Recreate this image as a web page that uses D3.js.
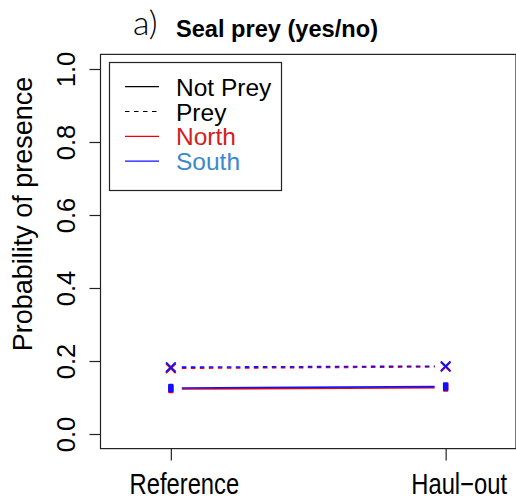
<!DOCTYPE html>
<html>
<head>
<meta charset="utf-8">
<script src="https://cdn.jsdelivr.net/npm/d3@7"></script>
<style>
  body { margin: 0; background: #fff; }
  svg { display: block; }
  text { font-family: "Liberation Sans", Arial, Helvetica, sans-serif; }
</style>
</head>
<body>
<script>
// Site categories along the x axis
const sites = ["Reference", "Haul\u2212out"];

// Probability of presence per site, split by region and prey status
const northPrey    = [0.180, 0.184];
const southPrey    = [0.183, 0.186];
const northNotPrey = [0.123, 0.127];
const southNotPrey = [0.126, 0.130];

const yTicks = [0, 0.2, 0.4, 0.6, 0.8, 1.0];
const legendLabels = ["Not Prey", "Prey", "North", "South"];

const W = 516, H = 501;
const red = "#f00000", blue = "#1010ff";

const series = [
  { region: "North", prey: false, values: northNotPrey, color: red },
  { region: "North", prey: true,  values: northPrey,    color: red },
  { region: "South", prey: false, values: southNotPrey, color: blue },
  { region: "South", prey: true,  values: southPrey,    color: blue }
];

const svg = d3.select("body").append("svg").attr("width", W).attr("height", H);

const x = d3.scaleLinear().domain([0.744, 2.256]).range([100.5, 516]);
const y = d3.scaleLinear().domain([-0.04, 1.04]).range([448.6, 54.4]);

// Plot frame
svg.append("rect")
  .attr("x", x(0.744)).attr("y", y(1.04))
  .attr("width", x(2.256) - x(0.744)).attr("height", y(-0.04) - y(1.04))
  .attr("fill", "none").attr("stroke", "#222").attr("stroke-width", 1.2);

// Y axis
const yAxis = svg.append("g")
  .attr("transform", `translate(${x(0.744)},0)`)
  .call(d3.axisLeft(y).tickValues(yTicks).tickSize(11).tickFormat(d3.format(".1f")));
yAxis.select(".domain").remove();
yAxis.selectAll(".tick line").attr("stroke", "#222").attr("stroke-width", 1.2);
yAxis.selectAll(".tick text")
  .attr("x", null).attr("dy", null)
  .attr("transform", "translate(-26,0) rotate(-90)")
  .attr("text-anchor", "middle")
  .style("font-size", "25.5px")
  .style("fill", "#000");

// X axis (labels drawn narrow and tall)
const xAxis = svg.append("g")
  .attr("transform", `translate(0,${y(-0.04)})`)
  .call(d3.axisBottom(x).tickValues([1, 2]).tickSize(12).tickFormat(d => sites[d - 1]));
xAxis.select(".domain").remove();
xAxis.selectAll(".tick line").attr("stroke", "#222").attr("stroke-width", 1.2);
xAxis.selectAll(".tick text")
  .attr("x", null).attr("y", null).attr("dy", null)
  .attr("transform", "translate(13,45.5) scale(0.82,1)")
  .style("font-size", "29px")
  .style("fill", "#000");

// Y axis title
svg.append("text")
  .attr("transform", "translate(32,214) rotate(-90)")
  .attr("text-anchor", "middle")
  .style("font-size", "27px")
  .style("fill", "#000")
  .text("Probability of presence");

// Title
svg.append("text")
  .attr("x", 133).attr("y", 35)
  .style("font-family", "'Lato Light', Lato, Roboto, 'Liberation Sans', sans-serif")
  .style("font-weight", 300)
  .style("font-size", "34px")
  .style("fill", "#000")
  .text("a)");
svg.append("text")
  .attr("x", 176).attr("y", 37)
  .attr("textLength", 202).attr("lengthAdjust", "spacingAndGlyphs")
  .style("font-weight", "bold")
  .style("font-size", "23.5px")
  .style("fill", "#000")
  .text("Seal prey (yes/no)");

// Lines between sites, leaving a gap around each point
const gap = 11;
const plot = svg.append("g");
series.forEach(s => {
  const x0 = x(1), x1 = x(2);
  const y0 = y(s.values[0]), y1 = y(s.values[1]);
  const dx = x1 - x0, dy = y1 - y0, len = Math.hypot(dx, dy);
  const ux = dx / len, uy = dy / len;
  plot.append("line")
    .attr("x1", x0 + ux * gap).attr("y1", y0 + uy * gap)
    .attr("x2", x1 - ux * gap).attr("y2", y1 - uy * gap)
    .attr("stroke", s.color).attr("stroke-width", 1.6)
    .attr("stroke-dasharray", s.prey ? "4.5,4.5" : null);
});

// Point markers: crosses for prey, filled blocks for non-prey
series.forEach(s => {
  s.values.forEach((v, i) => {
    const cx = x(i + 1), cy = y(v);
    if (s.prey) {
      const r = 4.8;
      plot.append("path")
        .attr("d", `M${cx - r},${cy - r}L${cx + r},${cy + r}M${cx - r},${cy + r}L${cx + r},${cy - r}`)
        .attr("stroke", s.color).attr("stroke-width", 1.8).attr("fill", "none");
    } else {
      plot.append("rect")
        .attr("x", cx - 2.7).attr("y", cy - 4.2)
        .attr("width", 5.4).attr("height", 8.4)
        .attr("rx", 1)
        .attr("fill", s.color);
    }
  });
});

// Legend
const lg = svg.append("g");
lg.append("rect")
  .attr("x", 109.5).attr("y", 62.5).attr("width", 172).attr("height", 128)
  .attr("fill", "#fff").attr("stroke", "#222").attr("stroke-width", 1.2);
const legendStyles = [
  { color: "#000", dash: null, text: "#000" },
  { color: "#000", dash: "4.5,4.5", text: "#000" },
  { color: red, dash: null, text: "#d42020" },
  { color: blue, dash: null, text: "#3a88d0" }
];
legendLabels.forEach((lab, i) => {
  const ry = 86.7 + i * 24.8;
  const st = legendStyles[i];
  lg.append("line")
    .attr("x1", 125).attr("x2", 159).attr("y1", ry).attr("y2", ry)
    .attr("stroke", st.color).attr("stroke-width", 1.2)
    .attr("stroke-dasharray", st.dash);
  lg.append("text")
    .attr("x", 176).attr("y", ry + 9)
    .style("font-size", "24.5px")
    .style("fill", st.text)
    .text(lab);
});
</script>
</body>
</html>
